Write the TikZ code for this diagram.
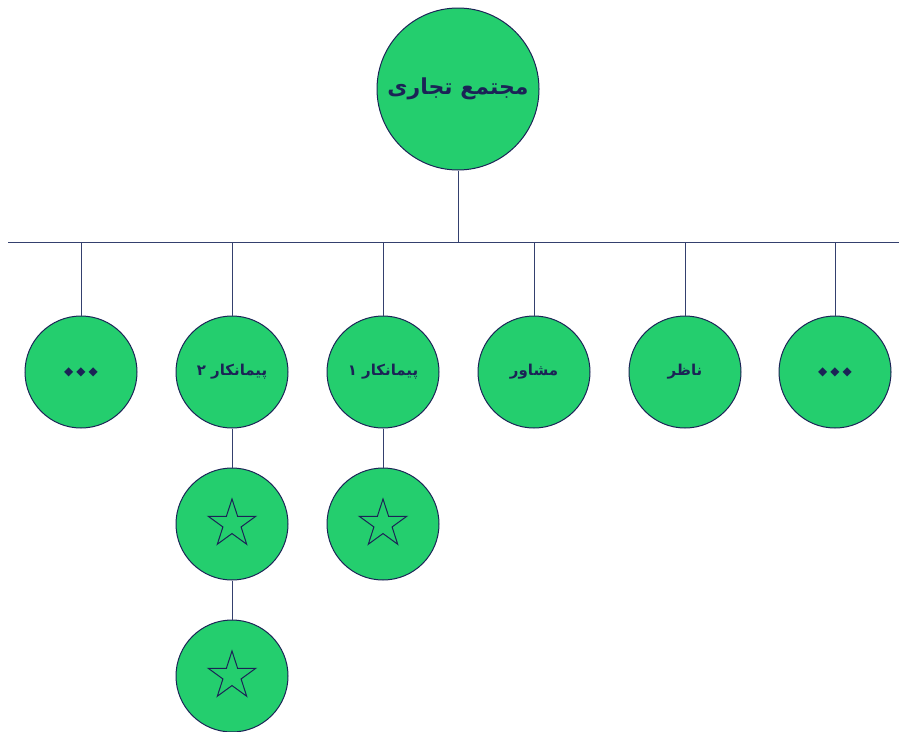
\documentclass[tikz,border=0pt]{standalone}
\usepackage{fontspec}
\newfontfamily\arabicfont[Script=Arabic]{DejaVu Sans}
\newfontfamily\symfont{DejaVu Sans}
\TeXXeTstate=1
\usetikzlibrary{shapes.geometric}
\definecolor{leaf}{HTML}{24CE6E}
\definecolor{ink}{HTML}{1B2356}
\definecolor{wirecol}{HTML}{34406E}

\begin{document}
\begin{tikzpicture}[x=1pt,y=-1pt]
\tikzset{bubble/.style={circle, draw=ink, fill=leaf, line width=1pt, minimum size=112pt, inner sep=0pt, text=ink, font=\arabicfont\bfseries\fontsize{15}{17}\selectfont}}
\tikzstyle{wire} = [draw=wirecol, line width=1pt]
\tikzstyle{starmark} = [star, star points=5, star point ratio=2.618, minimum size=50pt, inner sep=0pt, draw=ink, line width=1pt]
\tikzstyle{dots} = [font=\symfont\fontsize{12}{12}\selectfont, text=ink]
\useasboundingbox (0,0) rectangle (899,731);
% bus
\coordinate (bl) at (8,242);
\coordinate (br) at (899,242);
\coordinate (bt) at (458,242);
\coordinate (b1) at (81,242);
\coordinate (b2) at (232,242);
\coordinate (b3) at (383,242);
\coordinate (b4) at (534,242);
\coordinate (b5) at (685,242);
\coordinate (b6) at (835,242);
\node (v0) at (458,89) [bubble, minimum size=162pt, font=\arabicfont\bfseries\fontsize{22}{24}\selectfont] {\beginR مجتمع تجاری\endR};
\node (v1) at (81,372) [bubble] {};
\node (v2) at (232,372) [bubble] {\beginR پیمانکار ۲\endR};
\node (v3) at (383,372) [bubble] {\beginR پیمانکار ۱\endR};
\node (v4) at (534,372) [bubble] {\beginR مشاور\endR};
\node (v5) at (685,372) [bubble] {\beginR ناظر\endR};
\node (v6) at (835,372) [bubble] {};
\node (v7) at (232,524) [bubble] {};
\node (v8) at (232,676) [bubble] {};
\node (v9) at (383,524) [bubble] {};
\node (d1) at (v1.center) [dots] {◆\kern3pt◆\kern3pt◆};
\node (d6) at (v6.center) [dots] {◆\kern3pt◆\kern3pt◆};
\node (s7) at (v7.center) [starmark] {};
\node (s8) at (v8.center) [starmark] {};
\node (s9) at (v9.center) [starmark] {};
\draw[wire] (v0) -- (bt);
\draw[wire] (bl) -- (br);
\draw[wire] (b1) -- (v1);
\draw[wire] (b2) -- (v2);
\draw[wire] (b3) -- (v3);
\draw[wire] (b4) -- (v4);
\draw[wire] (b5) -- (v5);
\draw[wire] (b6) -- (v6);
\draw[wire] (v2) -- (v7);
\draw[wire] (v7) -- (v8);
\draw[wire] (v3) -- (v9);
\end{tikzpicture}
\end{document}
